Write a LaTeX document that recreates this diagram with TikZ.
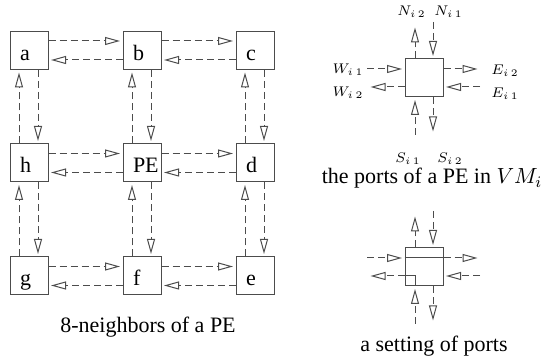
\documentclass[tikz,border=0pt]{standalone}
\usepackage{fontspec}
\setmainfont{Liberation Serif}
\usetikzlibrary{arrows.meta}
\tikzset{
  cell/.style={draw=black!70, line width=0.5pt, minimum width=19pt, minimum height=19pt,
    inner xsep=5pt, inner ysep=0pt, text width=9pt, align=left, text height=14.5pt, text depth=4.5pt},
  portbox/.style={draw=black!70, line width=0.5pt, minimum size=19pt, inner sep=0pt},
  link/.style={draw=black!70, line width=0.5pt, dash pattern=on 3.5pt off 2pt,
    -{Triangle[open,length=7.5pt,width=4pt]}, shorten >=1.25pt},
  lab/.style={font=\fontsize{7.5}{9}\selectfont, inner sep=0pt}
}
\begin{document}
\begin{tikzpicture}[x=0.5pt, y=-0.5pt, every node/.style={font=\fontsize{11}{13}\selectfont}]
    \useasboundingbox (0,0) rectangle (545,362);
    % the 3x3 grid of PEs
    \node[cell] (a)  at (29,50.5)  {a};
    \node[cell] (b)  at (142,50.5) {b};
    \node[cell] (c)  at (255,50.5) {c};
    \node[cell] (h)  at (29,163)   {h};
    \node[cell] (pe) at (142,163)  {PE};
    \node[cell] (d)  at (255,163)  {d};
    \node[cell] (g)  at (29,276)   {g};
    \node[cell] (f)  at (142,276)  {f};
    \node[cell] (e)  at (255,276)  {e};
    % horizontal links
    \draw[link] ([yshift=4.75pt]a.east) -- ([yshift=4.75pt]b.west);
    \draw[link] ([yshift=-4.75pt]b.west) -- ([yshift=-4.75pt]a.east);
    \draw[link] ([yshift=4.75pt]b.east) -- ([yshift=4.75pt]c.west);
    \draw[link] ([yshift=-4.75pt]c.west) -- ([yshift=-4.75pt]b.east);
    \draw[link] ([yshift=4.75pt]h.east) -- ([yshift=4.75pt]pe.west);
    \draw[link] ([yshift=-4.75pt]pe.west) -- ([yshift=-4.75pt]h.east);
    \draw[link] ([yshift=4.75pt]pe.east) -- ([yshift=4.75pt]d.west);
    \draw[link] ([yshift=-4.75pt]d.west) -- ([yshift=-4.75pt]pe.east);
    \draw[link] ([yshift=4.75pt]g.east) -- ([yshift=4.75pt]f.west);
    \draw[link] ([yshift=-4.75pt]f.west) -- ([yshift=-4.75pt]g.east);
    \draw[link] ([yshift=4.75pt]f.east) -- ([yshift=4.75pt]e.west);
    \draw[link] ([yshift=-4.75pt]e.west) -- ([yshift=-4.75pt]f.east);
    % vertical links
    \draw[link] ([xshift=-5pt]h.north) -- ([xshift=-5pt]a.south);
    \draw[link] ([xshift=4.5pt]a.south) -- ([xshift=4.5pt]h.north);
    \draw[link] ([xshift=-5pt]g.north) -- ([xshift=-5pt]h.south);
    \draw[link] ([xshift=4.5pt]h.south) -- ([xshift=4.5pt]g.north);
    \draw[link] ([xshift=-5pt]pe.north) -- ([xshift=-5pt]b.south);
    \draw[link] ([xshift=4.5pt]b.south) -- ([xshift=4.5pt]pe.north);
    \draw[link] ([xshift=-5pt]f.north) -- ([xshift=-5pt]pe.south);
    \draw[link] ([xshift=4.5pt]pe.south) -- ([xshift=4.5pt]f.north);
    \draw[link] ([xshift=-5pt]d.north) -- ([xshift=-5pt]c.south);
    \draw[link] ([xshift=4.5pt]c.south) -- ([xshift=4.5pt]d.north);
    \draw[link] ([xshift=-5pt]e.north) -- ([xshift=-5pt]d.south);
    \draw[link] ([xshift=4.5pt]d.south) -- ([xshift=4.5pt]e.north);
    \node[anchor=base] (capgrid) at (148,333) {8-neighbors of a PE};
    % the ports of one PE
    \node[portbox] (v) at (424,78) {};
    \coordinate (vNo) at (415,25);
    \coordinate (vNi) at (433,22);
    \coordinate (vWi) at (367,69);
    \coordinate (vWo) at (368,87);
    \coordinate (vEo) at (480,69);
    \coordinate (vEi) at (480,87);
    \coordinate (vSi) at (415,135);
    \coordinate (vSo) at (433,134);
    \draw[link] ([xshift=-4.5pt]v.north) -- (vNo);
    \draw[link] (vNi) -- ([xshift=4.5pt]v.north);
    \draw[link] (vWi) -- ([yshift=4.5pt]v.west);
    \draw[link] ([yshift=-4.5pt]v.west) -- (vWo);
    \draw[link] ([yshift=4.5pt]v.east) -- (vEo);
    \draw[link] (vEi) -- ([yshift=-4.5pt]v.east);
    \draw[link] (vSi) -- ([xshift=-4.5pt]v.south);
    \draw[link] ([xshift=4.5pt]v.south) -- (vSo);
    \node[lab] (n2) at (411.5,12) {$N_{i\,2}$};
    \node[lab] (n1) at (448.5,12) {$N_{i\,1}$};
    \node[lab] (w1) at (348,70)   {$W_{i\,1}$};
    \node[lab] (w2) at (348,93)   {$W_{i\,2}$};
    \node[lab] (e2) at (505,71)   {$E_{i\,2}$};
    \node[lab] (e1) at (505,94)   {$E_{i\,1}$};
    \node[lab] (s1) at (408,159)  {$S_{i\,1}$};
    \node[lab] (s2) at (450,159)  {$S_{i\,2}$};
    \node[anchor=base] (capports) at (432,184) {the ports of a PE in $VM_i$};
    % a setting of ports
    \begin{scope}[yshift=-94.5pt]
        \node[portbox] (s) at (424,78) {};
        \coordinate (sNo) at (415,25);
        \coordinate (sNi) at (433,22);
        \coordinate (sWi) at (367,69);
        \coordinate (sWo) at (368,87);
        \coordinate (sEo) at (480,69);
        \coordinate (sEi) at (480,87);
        \coordinate (sSi) at (415,135);
        \coordinate (sSo) at (433,134);
        \draw[link] ([xshift=-4.5pt]s.north) -- (sNo);
        \draw[link] (sNi) -- ([xshift=4.5pt]s.north);
        \draw[link] (sWi) -- ([yshift=4.5pt]s.west);
        \draw[link] ([yshift=-4.5pt]s.west) -- (sWo);
        \draw[link] ([yshift=4.5pt]s.east) -- (sEo);
        \draw[link] (sEi) -- ([yshift=-4.5pt]s.east);
        \draw[link] (sSi) -- ([xshift=-4.5pt]s.south);
        \draw[link] ([xshift=4.5pt]s.south) -- (sSo);
        \draw[black!70, line width=0.5pt] ([yshift=4.5pt]s.west) -- ([yshift=4.5pt]s.east);
        \draw[black!70, line width=0.5pt] ([yshift=-4.5pt]s.west) -| ([xshift=-4.5pt]s.south);
        \node[anchor=base] (capset) at (434,163) {a setting of ports};
    \end{scope}
\end{tikzpicture}
\end{document}
